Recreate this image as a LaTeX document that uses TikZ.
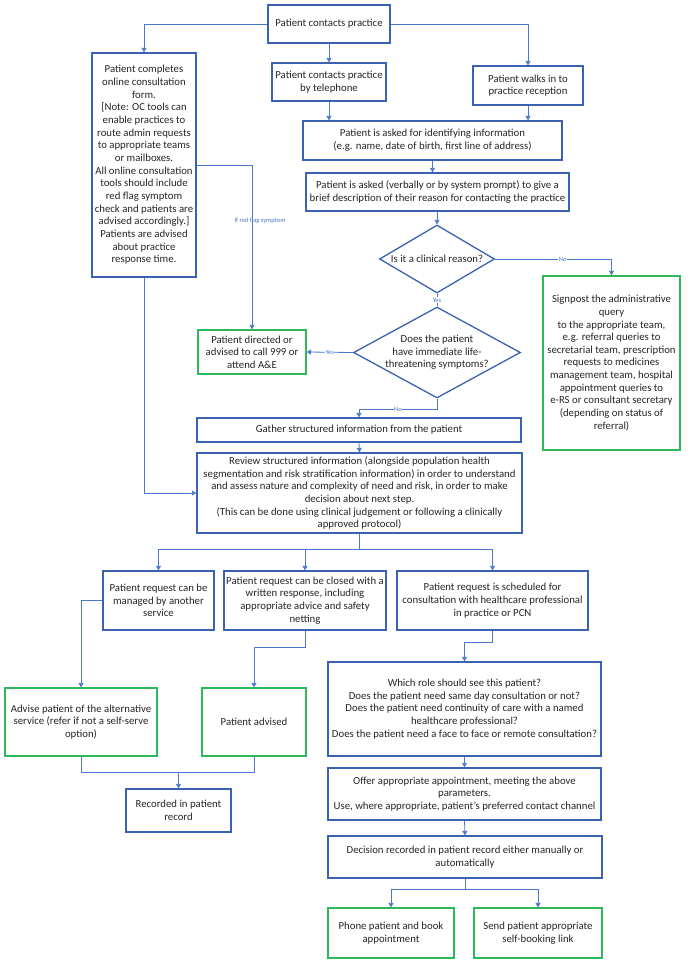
\documentclass[tikz,border=0pt]{standalone}
\usepackage{fontspec}
\setmainfont{Carlito}
\usetikzlibrary{shapes.geometric,arrows.meta}
\definecolor{boxblue}{HTML}{3A62B0}
\definecolor{lineblue}{HTML}{4A78CC}
\definecolor{boxgreen}{HTML}{2DB85C}
\definecolor{txt}{HTML}{262626}
\tikzset{
  base/.style={align=center, text=txt, font=\fontsize{10.8}{12.7}\selectfont, inner sep=0.5bp},
  bbox/.style={base, draw=boxblue, line width=1.3bp},
  gbox/.style={base, draw=boxgreen, line width=1.3bp},
  dia/.style={shape=diamond, draw=boxblue, line width=1.3bp, inner sep=0pt},
  conn/.style={draw=lineblue, line width=0.8bp, -{Triangle[length=4.5bp,width=5bp]}},
  plain/.style={draw=lineblue, line width=0.8bp},
  lab/.style={font=\fontsize{6.5}{7.5}\selectfont, text=lineblue, fill=white, inner sep=0.5bp},
  sz/.style 2 args={minimum width=#1bp, minimum height=#2bp}
}
\begin{document}
\begin{tikzpicture}[x=1bp,y=-1bp]
\useasboundingbox[fill=white] (0,0) rectangle (688,964);

\node[bbox, sz={122}{38}] (top) at (329,24) {Patient contacts practice};
\node[bbox, sz={104}{224}] (online) at (144,165) {Patient completes\\online consultation\\form.\\{[Note: OC tools can}\\enable practices to\\route admin requests\\to appropriate teams\\or mailboxes.\\All online consultation\\tools should include\\red flag symptom\\check and patients are\\advised accordingly.]\\Patients are advised\\about practice\\response time.};
\node[bbox, sz={114}{38}] (tel) at (329,82) {Patient contacts practice\\by telephone};
\node[bbox, sz={110}{39}] (walk) at (528,85.5) {Patient walks in to\\practice reception};
\node[bbox, sz={259}{39}] (ident) at (432.5,140.5) {Patient is asked for identifying information\\(e.g. name, date of birth, first line of address)};
\node[bbox, sz={263}{38}] (brief) at (437.5,192) {Patient is asked (verbally or by system prompt) to give a\\brief description of their reason for contacting the practice};
\node[dia, sz={115}{68}, label={[base]center:Is it a clinical reason?}] (d1) at (437,259) {};
\node[gbox, sz={137}{174}] (sign) at (611.5,363) {Signpost the administrative\\query\\to the appropriate team,\\e.g. referral queries to\\secretarial team, prescription\\requests to medicines\\management team, hospital\\appointment queries to\\e-RS or consultant secretary\\(depending on status of\\referral)};
\node[dia, sz={167}{91}, label={[base]center:Does the patient\\have immediate life-\\threatening symptoms?}] (d2) at (437,352.5) {};
\node[gbox, sz={108}{44}] (e999) at (252,352) {Patient directed or\\advised to call 999 or\\attend A\&E};
\node[bbox, sz={324}{24}] (gather) at (359,430) {Gather structured information from the patient};
\node[bbox, sz={325}{80}] (review) at (359.5,493) {Review structured information (alongside population health\\segmentation and risk stratification information) in order to understand\\and assess nature and complexity of need and risk, in order to make\\decision about next step.\\(This can be done using clinical judgement or following a clinically\\approved protocol)};
\node[bbox, sz={111}{59}] (b1) at (158.5,600.5) {Patient request can be\\managed by another\\service};
\node[bbox, sz={162}{59}] (b2) at (305,600.5) {Patient request can be closed with a\\written response, including\\appropriate advice and safety\\netting};
\node[bbox, sz={191}{59}] (b3) at (492.5,600.5) {Patient request is scheduled for\\consultation with healthcare professional\\in practice or PCN};
\node[gbox, sz={152}{68}] (advise) at (81,722) {Advise patient of the alternative\\service (refer if not a self-serve\\option)};
\node[gbox, sz={104}{68}] (advised) at (254,722) {Patient advised};
\node[bbox, sz={105}{43}] (rec) at (178.5,810.5) {Recorded in patient\\record};
\node[bbox, sz={273}{94}] (which) at (464.5,709) {Which role should see this patient?\\Does the patient need same day consultation or not?\\Does the patient need continuity of care with a named\\healthcare professional?\\Does the patient need a face to face or remote consultation?};
\node[bbox, sz={273}{52}] (offer) at (464.5,794) {Offer appropriate appointment, meeting the above\\parameters.\\Use, where appropriate, patient's preferred contact channel};
\node[bbox, sz={274}{42}] (dec) at (465,857) {Decision recorded in patient record either manually or\\automatically};
\node[gbox, sz={126}{50}] (phone) at (391,933) {Phone patient and book\\appointment};
\node[gbox, sz={128}{50}] (send) at (538,933) {Send patient appropriate\\self-booking link};

% connectors
\draw[conn] (top.west) -| (online.north);
\draw[conn] (top.south) -- (tel.north);
\draw[conn] (top.east) -| (walk.north);
\draw[conn] (tel.south) -- (tel.south |- ident.north);
\draw[conn] (walk.south) -- (walk.south |- ident.north);
\draw[conn] (ident.south) -- (ident.south |- brief.north);
\draw[conn] (brief.south -| d1.north) -- (d1.north);
\draw[conn] (d1.east) -| node[lab, pos=0.29] {No} (sign.north);
\draw[plain] (d1.south) -- node[lab, pos=0.5] {Yes} (d2.north);
\draw[conn] (d2.west) -- node[lab, pos=0.5] {Yes} (e999.east);
\draw[conn] (d2.south) -- ++(0,11) coordinate (d2n) -| node[lab, pos=0.25] {No} (gather.north);
\draw[conn] (online.east) -| (e999.north);
\node[lab, fill=none] (rf) at (260,221) {If red flag symptom};
\draw[conn] (online.south) |- (review.west);
\draw[conn] (gather.south) -- (review.north);
\draw[plain] (review.south) -- ++(0,16) coordinate (split);
\draw[conn] (split) -| (b1.north);
\draw[conn] (split) -| (b2.north);
\draw[conn] (split) -| (b3.north);
\draw[conn] (b1.west) -| (advise.north);
\draw[conn] (b2.south) -- ++(0,17) -| (advised.north);
\draw[conn] (b3.south) -- ++(0,12) -| (which.north);
\coordinate (join) at (178.5,772);
\draw[plain] (advise.south) |- (join) -| (advised.south);
\draw[conn] (join) -- (rec.north);
\draw[conn] (which.south) -- (offer.north);
\draw[conn] (offer.south) -- (dec.north);
\draw[plain] (dec.south) -- ++(0,11) coordinate (split2);
\draw[conn] (split2) -| (phone.north);
\draw[conn] (split2) -| (send.north);
\end{tikzpicture}
\end{document}
